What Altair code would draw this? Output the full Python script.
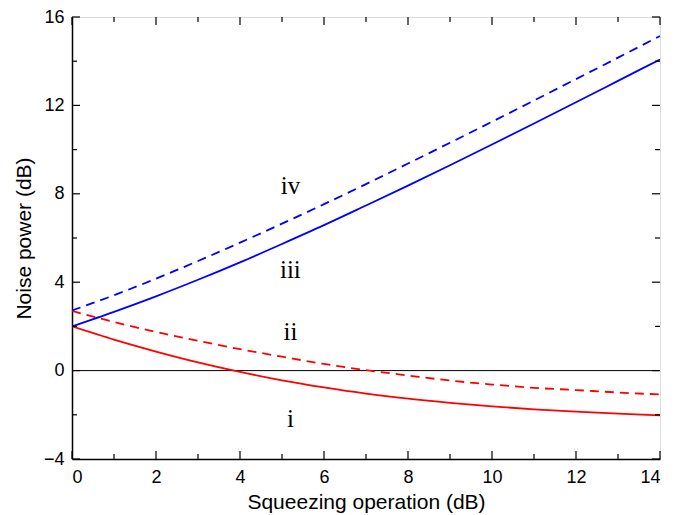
import altair as alt
import pandas as pd

squeeze = list(range(15))
curve_i = [2.0, 1.40, 0.86, 0.37, -0.06, -0.44, -0.76, -1.04, -1.27, -1.46, -1.62, -1.75, -1.86, -1.95, -2.03]
curve_ii = [2.7, 2.2, 1.75, 1.35, 0.97, 0.63, 0.30, 0.02, -0.22, -0.45, -0.63, -0.78, -0.88, -0.99, -1.08]
curve_iii = [2.0, 2.66, 3.36, 4.11, 4.90, 5.73, 6.58, 7.47, 8.37, 9.29, 10.23, 11.18, 12.14, 13.11, 14.08]
curve_iv = [2.72, 3.41, 4.16, 4.96, 5.79, 6.65, 7.53, 8.44, 9.37, 10.31, 11.26, 12.22, 13.19, 14.16, 15.14]

label_text = ["i", "ii", "iii", "iv"]
label_x = [5.2, 5.2, 5.2, 5.2]
label_y = [-2.2, 1.75, 4.55, 8.35]

x_major = [0, 2, 4, 6, 8, 10, 12, 14]
x_minor = [1, 3, 5, 7, 9, 11, 13]
y_major = [-4, 0, 4, 8, 12, 16]
y_minor = [-2, 2, 6, 10, 14]

W, H = 588, 442
xs = alt.Scale(domain=[0, 14], nice=False, zero=False)
ys = alt.Scale(domain=[-4, 16], nice=False, zero=False)

xax = alt.Axis(title="Squeezing operation (dB)", values=x_major, ticks=False, grid=False,
               domainColor="black", domainWidth=1.5, labelFont="Liberation Sans", labelFontSize=18,
               labelColor="black", labelPadding=9, titleFont="Liberation Sans", titleFontSize=21,
               titleFontWeight="normal", titleColor="black", titlePadding=5, format="d")
yax = alt.Axis(title="Noise power (dB)", values=y_major, ticks=False, grid=False,
               domainColor="black", domainWidth=1.5, labelFont="Liberation Sans", labelFontSize=18,
               labelColor="black", labelPadding=8, titleFont="Liberation Sans", titleFontSize=21,
               titleFontWeight="normal", titleColor="black", titlePadding=9, format="d")


def curve(vals, color, dash=None):
    df = pd.DataFrame({"x": squeeze, "y": vals})
    kw = dict(color=color, strokeWidth=1.8, interpolate="monotone", clip=True)
    if dash:
        kw["strokeDash"] = dash
    return alt.Chart(df).mark_line(**kw).encode(
        x=alt.X("x:Q", scale=xs, axis=xax),
        y=alt.Y("y:Q", scale=ys, axis=yax),
    )


zero = alt.Chart(pd.DataFrame({"y": [0]})).mark_rule(color="black", strokeWidth=1).encode(
    y=alt.Y("y:Q", scale=ys, axis=yax)
)

tick_layers = []
for vals, ln in ((x_major, 8), (x_minor, 5)):
    d = pd.DataFrame({"x": vals})
    tick_layers.append(alt.Chart(d).mark_rule(color="black", strokeWidth=1.2).encode(
        x=alt.X("x:Q", scale=xs, axis=xax), y=alt.value(H), y2=alt.value(H - ln)))
    tick_layers.append(alt.Chart(d).mark_rule(color="black", strokeWidth=1.2).encode(
        x=alt.X("x:Q", scale=xs, axis=xax), y=alt.value(0), y2=alt.value(ln)))
for vals, ln in ((y_major, 8), (y_minor, 5)):
    d = pd.DataFrame({"y": vals})
    tick_layers.append(alt.Chart(d).mark_rule(color="black", strokeWidth=1.2).encode(
        y=alt.Y("y:Q", scale=ys, axis=yax), x=alt.value(0), x2=alt.value(ln)))
    tick_layers.append(alt.Chart(d).mark_rule(color="black", strokeWidth=1.2).encode(
        y=alt.Y("y:Q", scale=ys, axis=yax), x=alt.value(W), x2=alt.value(W - ln)))

labels = alt.Chart(pd.DataFrame({"t": label_text, "x": label_x, "y": label_y})).mark_text(
    font="Liberation Serif", fontSize=25, color="black", baseline="middle", align="center"
).encode(x=alt.X("x:Q", scale=xs, axis=xax), y=alt.Y("y:Q", scale=ys, axis=yax), text="t:N")

chart = alt.layer(
    zero,
    curve(curve_i, "#ff0000"),
    curve(curve_ii, "#ff0000", [9, 6]),
    curve(curve_iii, "#0000ff"),
    curve(curve_iv, "#0000ff", [9, 6]),
    labels,
    *tick_layers,
).properties(
    width=W, height=H, autosize="none",
    padding={"left": 64, "top": 9, "right": 17, "bottom": 54},
).configure_view(stroke="black", strokeWidth=1.5).configure(background="white")

chart.save("out.html", embed_options={"renderer": "svg", "actions": False})
